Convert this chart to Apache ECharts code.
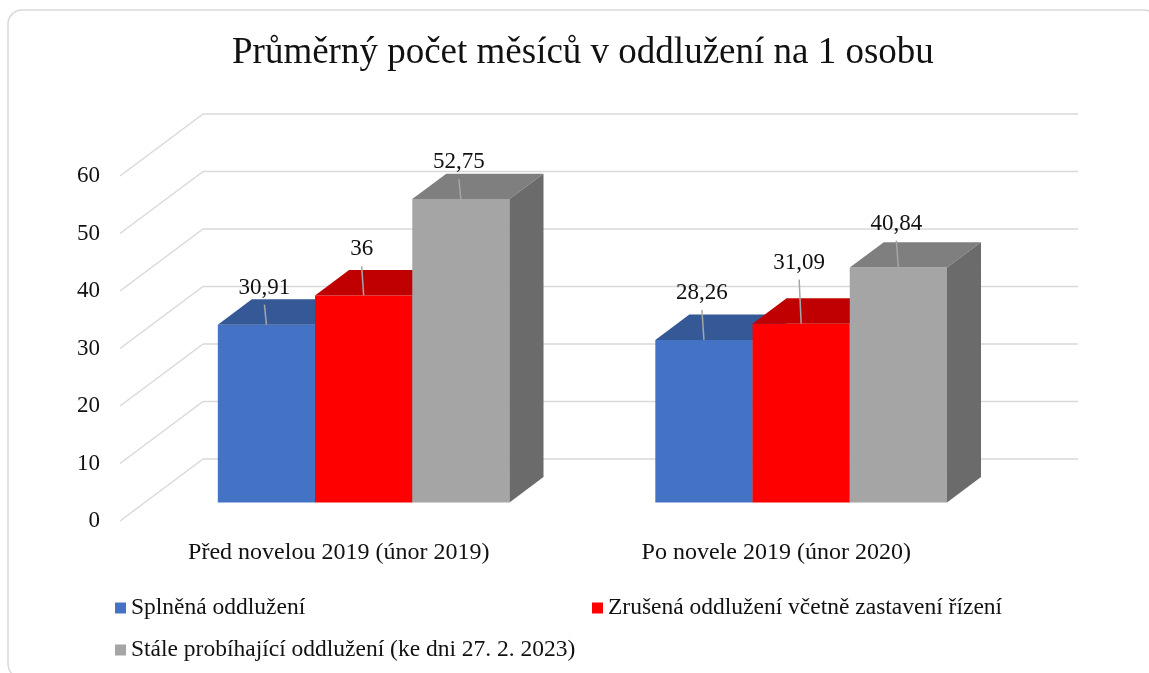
<!DOCTYPE html>
<html>
<head>
<meta charset="utf-8">
<script src="https://cdn.jsdelivr.net/npm/echarts@6/dist/echarts.min.js"></script>
<style>
  html, body { margin: 0; padding: 0; background: #fff; }
  #chart { width: 1149px; height: 673px; }
</style>
</head>
<body>
<div id="chart"></div>
<script>
// data
const categories = ['Před novelou 2019 (únor 2019)', 'Po novele 2019 (únor 2020)']
const seriesNames = [
  'Splněná oddlužení',
  'Zrušená oddlužení včetně zastavení řízení',
  'Stále probíhající oddlužení (ke dni 27. 2. 2023)'
]
const splnena = [30.91, 28.26]
const zrusena = [36, 31.09]
const probihajici = [52.75, 40.84]
const yTicks = [0, 10, 20, 30, 40, 50, 60]

const FONT = '"Liberation Serif", "Times New Roman", serif'
const TEXT = '#111'
// perspective of the fake 3d box (pixels from front plane to back wall)
const DX = 83
const DY = 62
const D_FRONT = 0.3
const D_BACK = 0.71
// face colours: front, top, side
const faces = [
  ['#4472C4', '#355896', '#2f4f87'],
  ['#FF0000', '#C00000', '#a00000'],
  ['#A5A5A5', '#7F7F7F', '#6B6B6B']
]
// how far each data label sits above its bar (manual in the original)
const labelLift = [[37, 46, 37], [47, 61, 44]]

const chart = echarts.init(document.getElementById('chart'))

function renderGrid(params, api) {
  const cs = params.coordSys
  const v = api.value(1)
  const y = api.coord([0, v])[1]
  const x0 = cs.x
  const x1 = cs.x + cs.width
  const style = { stroke: '#d9d9d9', lineWidth: 1.5, fill: null }
  return {
    type: 'group',
    children: [
      { type: 'line', shape: { x1: x0, y1: y, x2: x0 + DX, y2: y - DY }, style: style },
      { type: 'line', shape: { x1: x0 + DX, y1: y - DY, x2: x1 + DX, y2: y - DY }, style: style }
    ]
  }
}

function makeBarRenderer(si) {
  return function(params, api) {
    const ci = api.value(0)
    const v = api.value(1)
    const band = api.size([1, 0])[0]
    const bw = band / 4.5
    const base = api.coord([ci, 0])
    const top = api.coord([ci, v])
    const left = base[0] - band / 2 + 0.75 * bw + si * bw
    const fx = left + D_FRONT * DX
    const yBot = base[1] - D_FRONT * DY
    const yTop = top[1] - D_FRONT * DY
    const dx = (D_BACK - D_FRONT) * DX
    const dy = (D_BACK - D_FRONT) * DY
    const c = faces[si]
    const cx = fx + bw / 2
    const ly = yTop - labelLift[ci][si]
    return {
      type: 'group',
      children: [
        { type: 'rect', shape: { x: fx, y: yTop, width: bw, height: yBot - yTop }, style: { fill: c[0] } },
        { type: 'polygon', shape: { points: [[fx, yTop], [fx + bw, yTop], [fx + bw + dx, yTop - dy], [fx + dx, yTop - dy]] }, style: { fill: c[1] } },
        { type: 'polygon', shape: { points: [[fx + bw, yTop], [fx + bw + dx, yTop - dy], [fx + bw + dx, yBot - dy], [fx + bw, yBot]] }, style: { fill: c[2] } },
        { type: 'line', z2: 5, shape: { x1: cx - 2, y1: ly + 17, x2: cx, y2: yTop }, style: { stroke: '#a6a6a6', lineWidth: 1.5 } },
        { type: 'text', z2: 6, style: { x: cx - 2, y: ly, text: String(v).replace('.', ','), fill: TEXT, font: '23px ' + FONT, align: 'center', verticalAlign: 'middle' } }
      ]
    }
  }
}

const valueLists = [splnena, zrusena, probihajici]
const barSeries = valueLists.map(function(vals, si) {
  return {
    name: seriesNames[si],
    type: 'custom',
    clip: false,
    z: 3,
    itemStyle: { color: faces[si][0] },
    renderItem: makeBarRenderer(si),
    encode: { x: 0, y: 1 },
    data: vals.map(function(v, i) { return [i, v] })
  }
})

const legendText = { fontFamily: FONT, fontSize: 23.5, color: TEXT }
function legendAt(name, left, top) {
  return {
    data: [name], left: left, top: top, padding: 0,
    icon: 'rect', itemWidth: 11, itemHeight: 11,
    textStyle: legendText, selectedMode: false
  }
}

chart.setOption({
  backgroundColor: '#fff',
  animation: false,
  title: {
    text: 'Průměrný počet měsíců v oddlužení na 1 osobu',
    left: 232,
    top: 35,
    padding: 0,
    textStyle: { fontFamily: FONT, fontSize: 37, fontWeight: 'normal', color: TEXT }
  },
  graphic: [{
    type: 'rect',
    shape: { x: 8, y: 10, width: 1150, height: 668, r: 14 },
    style: { fill: null, stroke: '#d9d9d9', lineWidth: 1.5 },
    silent: true
  }],
  legend: [
    legendAt(seriesNames[0], 115, 596),
    legendAt(seriesNames[1], 592, 596),
    legendAt(seriesNames[2], 115, 638)
  ],
  grid: { left: 120, right: 154, top: 176, bottom: 152 },
  xAxis: {
    type: 'category',
    data: categories,
    axisLine: { show: false },
    axisTick: { show: false },
    axisLabel: { margin: 20, fontFamily: FONT, fontSize: 24, color: TEXT }
  },
  yAxis: {
    type: 'value',
    min: 0,
    max: 60,
    interval: 10,
    splitLine: { show: false },
    axisLine: { show: false },
    axisTick: { show: false },
    axisLabel: { margin: 20, fontFamily: FONT, fontSize: 23, color: TEXT }
  },
  series: [{
    type: 'custom',
    clip: false,
    silent: true,
    z: 1,
    renderItem: renderGrid,
    encode: { x: 0, y: 1 },
    data: yTicks.map(function(t) { return [0, t] })
  }].concat(barSeries)
})
</script>
</body>
</html>
